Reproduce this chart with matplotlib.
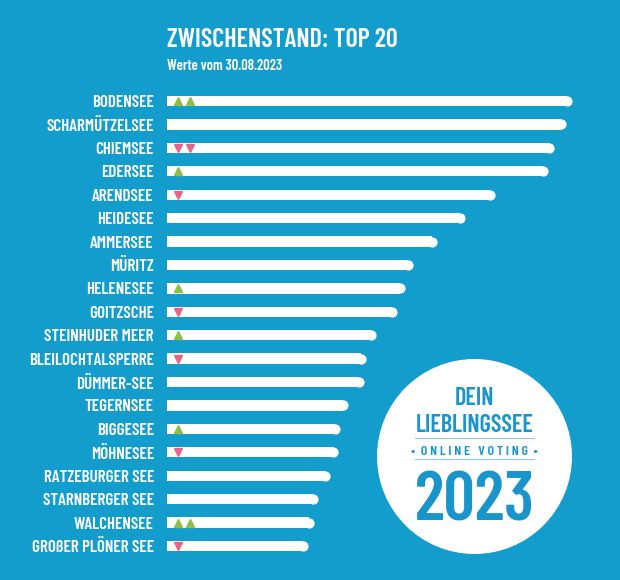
import matplotlib
matplotlib.use("Agg")
import matplotlib.pyplot as plt
from matplotlib.patches import Circle

# Top 20 lakes, interim standing (relative score)
seen = ["BODENSEE", "SCHARMÜTZELSEE", "CHIEMSEE", "EDERSEE", "ARENDSEE",
        "HEIDESEE", "AMMERSEE", "MÜRITZ", "HELENESEE", "GOITZSCHE",
        "STEINHUDER MEER", "BLEILOCHTALSPERRE", "DÜMMER-SEE", "TEGERNSEE",
        "BIGGESEE", "MÖHNESEE", "RATZEBURGER SEE", "STARNBERGER SEE",
        "WALCHENSEE", "GROßER PLÖNER SEE"]
werte = [405, 399, 387, 381, 328, 298, 270, 246, 238, 230,
         209, 199, 197, 181, 173, 171, 163, 151, 147, 141]
# +n = n arrows up, -n = n arrows down
trend = [2, 0, -2, 1, -1, 0, 0, 0, 1, -1, 1, -1, 0, 0, 1, -1, 0, 0, 2, -1]

BG = "#139dcd"
GREEN = "#8cbf4a"
PINK = "#e76484"
BADGE = "#1a95cc"

plt.rcParams['font.family'] = ['Barlow Condensed', 'DejaVu Sans']
plt.rcParams['font.weight'] = 600

fig = plt.figure(figsize=(6.2, 5.8), dpi=100, facecolor=BG)
W, H = 620, 580

ax = fig.add_axes([167 / W, 22.3 / H, 420 / W, 468.4 / H])
ax.set_facecolor(BG)
ax.set_xlim(0, 420)
ax.set_ylim(len(seen) - 0.5, -0.5)

ys = list(range(len(seen)))
r = 5
ax.barh(ys, [v - r for v in werte], height=0.44, color="white", lw=0)
ax.scatter([v - r for v in werte], ys, s=54, color="white", lw=0, zorder=2)

for y, t in zip(ys, trend):
    for k in range(abs(t)):
        ax.plot(11 + 12 * k, y, marker="^" if t > 0 else "v", ms=6,
                color=GREEN if t > 0 else PINK, lw=0, zorder=3)

ax.set_yticks(ys)
ax.set_yticklabels(seen, color="white", fontsize=12.3, fontweight=600)
ax.tick_params(axis="y", length=0, pad=9.4)
ax.set_xticks([])
for s in ax.spines.values():
    s.set_visible(False)

fig.text(167 / W, 1 - 47 / H, "ZWISCHENSTAND: TOP 20", color="white",
         fontsize=18.8, fontweight=600, va="baseline")
fig.text(167 / W, 1 - 70 / H, "Werte vom 30.08.2023", color="white",
         fontsize=10.5, fontweight=600, va="baseline")

# badge
bx = fig.add_axes([377 / W, 26 / H, 195 / W, 195 / H])
bx.set_xlim(0, 1)
bx.set_ylim(0, 1)
bx.axis("off")
bx.add_patch(Circle((0.5, 0.5), 0.5, color="white", lw=0))
bx.text(0.5, 0.764, "DEIN", color=BADGE, fontsize=17.5, fontweight=600,
        ha="center", va="baseline")
bx.text(0.5, 0.626, "LIEBLINGSSEE", color=BADGE, fontsize=17.5,
        fontweight=600, ha="center", va="baseline")
bx.plot([0.195, 0.805], [0.595, 0.595], color="#8fcbe6", lw=0.8)
bx.text(0.5, 0.508, "•  O N L I N E   V O T I N G  •", color=BADGE,
        fontsize=10, fontweight=600, ha="center", va="baseline")
bx.plot([0.195, 0.805], [0.487, 0.487], color="#8fcbe6", lw=0.8)
bx.text(0.5, 0.174, "2023", color=BADGE, fontsize=50, fontweight=600,
        ha="center", va="baseline")

fig.savefig("out.png", dpi=100, facecolor=BG)
